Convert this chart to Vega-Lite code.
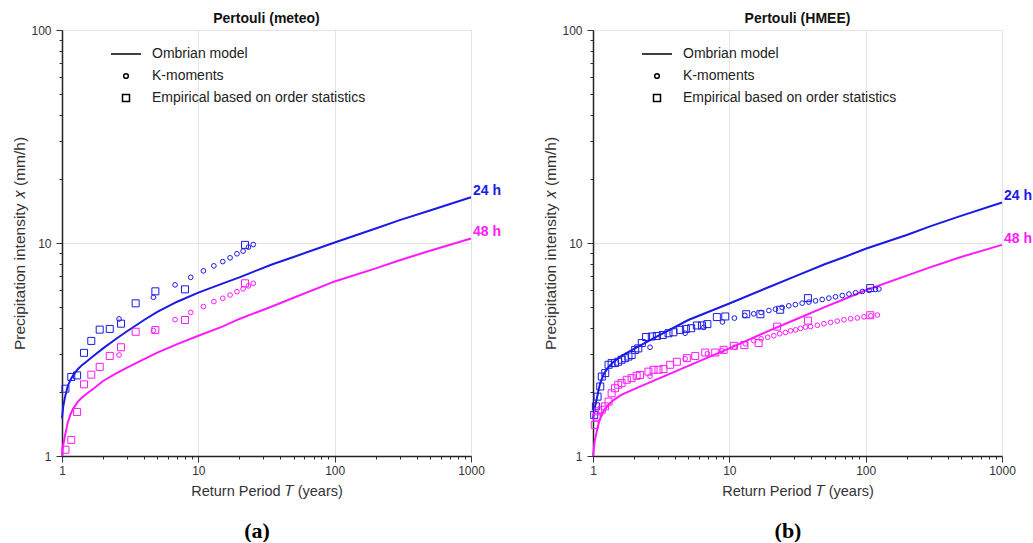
{
"$schema": "https://vega.github.io/schema/vega-lite/v6.json",
"padding": {"left": 12, "top": 12, "right": 5, "bottom": 0},
"background": "white",
"config": {
  "font": "Liberation Sans",
  "view": {"stroke": null},
  "axis": {"labelFont": "Liberation Sans", "labelFontSize": 12, "labelColor": "#333", "titleFont": "Liberation Sans", "titleFontSize": 14.5, "titleFontWeight": "normal", "titleColor": "#333", "domainColor": "#222", "domainWidth": 1.5, "tickColor": "#333", "gridColor": "#e4e4e4"},
  "axisY": {"titleFontSize": 15.5},
  "title": {"font": "Liberation Sans", "fontSize": 14, "fontWeight": "bold", "color": "#111", "offset": -2},
  "legend": {"orient": "none", "legendX": 48, "legendY": 8, "rowPadding": 8, "labelFont": "Liberation Sans", "labelFontSize": 14, "labelColor": "#222", "labelOffset": 10, "labelLimit": 500, "symbolStrokeColor": "black", "symbolFillColor": "transparent", "symbolStrokeWidth": 1.5}
},
"data": {"values": [
{"p":"a","k":"Ombrian model","d":"24 h","T":1,"x":1.5},{"p":"a","k":"Ombrian model","d":"24 h","T":1.01,"x":1.6},{"p":"a","k":"Ombrian model","d":"24 h","T":1.02,"x":1.7},{"p":"a","k":"Ombrian model","d":"24 h","T":1.05,"x":1.88},{"p":"a","k":"Ombrian model","d":"24 h","T":1.1,"x":2.12},{"p":"a","k":"Ombrian model","d":"24 h","T":1.15,"x":2.27},{"p":"a","k":"Ombrian model","d":"24 h","T":1.2,"x":2.38},{"p":"a","k":"Ombrian model","d":"24 h","T":1.3,"x":2.55},{"p":"a","k":"Ombrian model","d":"24 h","T":1.4,"x":2.67},{"p":"a","k":"Ombrian model","d":"24 h","T":1.5,"x":2.76},{"p":"a","k":"Ombrian model","d":"24 h","T":1.7,"x":2.95},{"p":"a","k":"Ombrian model","d":"24 h","T":2,"x":3.2},{"p":"a","k":"Ombrian model","d":"24 h","T":2.5,"x":3.55},{"p":"a","k":"Ombrian model","d":"24 h","T":3,"x":3.85},{"p":"a","k":"Ombrian model","d":"24 h","T":4,"x":4.35},{"p":"a","k":"Ombrian model","d":"24 h","T":5,"x":4.75},{"p":"a","k":"Ombrian model","d":"24 h","T":7,"x":5.3},{"p":"a","k":"Ombrian model","d":"24 h","T":10,"x":5.85},{"p":"a","k":"Ombrian model","d":"24 h","T":15,"x":6.45},{"p":"a","k":"Ombrian model","d":"24 h","T":20,"x":6.9},{"p":"a","k":"Ombrian model","d":"24 h","T":35,"x":7.95},{"p":"a","k":"Ombrian model","d":"24 h","T":50,"x":8.6},{"p":"a","k":"Ombrian model","d":"24 h","T":100,"x":10.05},{"p":"a","k":"Ombrian model","d":"24 h","T":200,"x":11.7},{"p":"a","k":"Ombrian model","d":"24 h","T":300,"x":12.8},{"p":"a","k":"Ombrian model","d":"24 h","T":500,"x":14.2},{"p":"a","k":"Ombrian model","d":"24 h","T":1000,"x":16.4},
{"p":"a","k":"Ombrian model","d":"48 h","T":1,"x":1.0},{"p":"a","k":"Ombrian model","d":"48 h","T":1.01,"x":1.06},{"p":"a","k":"Ombrian model","d":"48 h","T":1.02,"x":1.12},{"p":"a","k":"Ombrian model","d":"48 h","T":1.05,"x":1.24},{"p":"a","k":"Ombrian model","d":"48 h","T":1.1,"x":1.43},{"p":"a","k":"Ombrian model","d":"48 h","T":1.15,"x":1.56},{"p":"a","k":"Ombrian model","d":"48 h","T":1.2,"x":1.66},{"p":"a","k":"Ombrian model","d":"48 h","T":1.3,"x":1.79},{"p":"a","k":"Ombrian model","d":"48 h","T":1.4,"x":1.88},{"p":"a","k":"Ombrian model","d":"48 h","T":1.5,"x":1.95},{"p":"a","k":"Ombrian model","d":"48 h","T":1.7,"x":2.07},{"p":"a","k":"Ombrian model","d":"48 h","T":2,"x":2.25},{"p":"a","k":"Ombrian model","d":"48 h","T":2.5,"x":2.44},{"p":"a","k":"Ombrian model","d":"48 h","T":3,"x":2.6},{"p":"a","k":"Ombrian model","d":"48 h","T":4,"x":2.85},{"p":"a","k":"Ombrian model","d":"48 h","T":5,"x":3.06},{"p":"a","k":"Ombrian model","d":"48 h","T":7,"x":3.35},{"p":"a","k":"Ombrian model","d":"48 h","T":10,"x":3.67},{"p":"a","k":"Ombrian model","d":"48 h","T":15,"x":4.05},{"p":"a","k":"Ombrian model","d":"48 h","T":20,"x":4.4},{"p":"a","k":"Ombrian model","d":"48 h","T":35,"x":5.05},{"p":"a","k":"Ombrian model","d":"48 h","T":50,"x":5.53},{"p":"a","k":"Ombrian model","d":"48 h","T":100,"x":6.6},{"p":"a","k":"Ombrian model","d":"48 h","T":200,"x":7.6},{"p":"a","k":"Ombrian model","d":"48 h","T":300,"x":8.3},{"p":"a","k":"Ombrian model","d":"48 h","T":500,"x":9.2},{"p":"a","k":"Ombrian model","d":"48 h","T":1000,"x":10.5},
{"p":"a","k":"K-moments","d":"24 h","T":2.62,"x":4.4},{"p":"a","k":"K-moments","d":"24 h","T":4.68,"x":5.56},{"p":"a","k":"K-moments","d":"24 h","T":6.75,"x":6.36},{"p":"a","k":"K-moments","d":"24 h","T":8.79,"x":6.9},{"p":"a","k":"K-moments","d":"24 h","T":10.9,"x":7.4},{"p":"a","k":"K-moments","d":"24 h","T":13.0,"x":7.81},{"p":"a","k":"K-moments","d":"24 h","T":15.1,"x":8.18},{"p":"a","k":"K-moments","d":"24 h","T":17.1,"x":8.52},{"p":"a","k":"K-moments","d":"24 h","T":19.2,"x":8.9},{"p":"a","k":"K-moments","d":"24 h","T":21.3,"x":9.16},{"p":"a","k":"K-moments","d":"24 h","T":23.3,"x":9.56},{"p":"a","k":"K-moments","d":"24 h","T":25.3,"x":9.84},
{"p":"a","k":"K-moments","d":"48 h","T":2.62,"x":2.98},{"p":"a","k":"K-moments","d":"48 h","T":4.68,"x":3.88},{"p":"a","k":"K-moments","d":"48 h","T":6.75,"x":4.37},{"p":"a","k":"K-moments","d":"48 h","T":8.79,"x":4.72},{"p":"a","k":"K-moments","d":"48 h","T":10.9,"x":5.03},{"p":"a","k":"K-moments","d":"48 h","T":13.0,"x":5.31},{"p":"a","k":"K-moments","d":"48 h","T":15.1,"x":5.5},{"p":"a","k":"K-moments","d":"48 h","T":17.1,"x":5.7},{"p":"a","k":"K-moments","d":"48 h","T":19.2,"x":5.91},{"p":"a","k":"K-moments","d":"48 h","T":21.3,"x":6.09},{"p":"a","k":"K-moments","d":"48 h","T":23.3,"x":6.29},{"p":"a","k":"K-moments","d":"48 h","T":25.3,"x":6.47},
{"p":"a","k":"Empirical based on order statistics","d":"24 h","T":1.06,"x":2.07},{"p":"a","k":"Empirical based on order statistics","d":"24 h","T":1.17,"x":2.35},{"p":"a","k":"Empirical based on order statistics","d":"24 h","T":1.29,"x":2.39},{"p":"a","k":"Empirical based on order statistics","d":"24 h","T":1.45,"x":3.05},{"p":"a","k":"Empirical based on order statistics","d":"24 h","T":1.64,"x":3.47},{"p":"a","k":"Empirical based on order statistics","d":"24 h","T":1.89,"x":3.92},{"p":"a","k":"Empirical based on order statistics","d":"24 h","T":2.24,"x":3.95},{"p":"a","k":"Empirical based on order statistics","d":"24 h","T":2.71,"x":4.18},{"p":"a","k":"Empirical based on order statistics","d":"24 h","T":3.47,"x":5.21},{"p":"a","k":"Empirical based on order statistics","d":"24 h","T":4.84,"x":5.93},{"p":"a","k":"Empirical based on order statistics","d":"24 h","T":7.98,"x":6.06},{"p":"a","k":"Empirical based on order statistics","d":"24 h","T":22.0,"x":9.8},
{"p":"a","k":"Empirical based on order statistics","d":"48 h","T":1.06,"x":1.07},{"p":"a","k":"Empirical based on order statistics","d":"48 h","T":1.17,"x":1.19},{"p":"a","k":"Empirical based on order statistics","d":"48 h","T":1.29,"x":1.61},{"p":"a","k":"Empirical based on order statistics","d":"48 h","T":1.45,"x":2.17},{"p":"a","k":"Empirical based on order statistics","d":"48 h","T":1.64,"x":2.41},{"p":"a","k":"Empirical based on order statistics","d":"48 h","T":1.89,"x":2.62},{"p":"a","k":"Empirical based on order statistics","d":"48 h","T":2.24,"x":2.95},{"p":"a","k":"Empirical based on order statistics","d":"48 h","T":2.71,"x":3.24},{"p":"a","k":"Empirical based on order statistics","d":"48 h","T":3.47,"x":3.83},{"p":"a","k":"Empirical based on order statistics","d":"48 h","T":4.84,"x":3.9},{"p":"a","k":"Empirical based on order statistics","d":"48 h","T":7.98,"x":4.35},{"p":"a","k":"Empirical based on order statistics","d":"48 h","T":22.0,"x":6.47},
{"p":"b","k":"Ombrian model","d":"24 h","T":1,"x":1.5},{"p":"b","k":"Ombrian model","d":"24 h","T":1.03,"x":1.68},{"p":"b","k":"Ombrian model","d":"24 h","T":1.065,"x":1.85},{"p":"b","k":"Ombrian model","d":"24 h","T":1.1,"x":2.05},{"p":"b","k":"Ombrian model","d":"24 h","T":1.13,"x":2.2},{"p":"b","k":"Ombrian model","d":"24 h","T":1.2,"x":2.43},{"p":"b","k":"Ombrian model","d":"24 h","T":1.3,"x":2.62},{"p":"b","k":"Ombrian model","d":"24 h","T":1.4,"x":2.75},{"p":"b","k":"Ombrian model","d":"24 h","T":1.6,"x":2.94},{"p":"b","k":"Ombrian model","d":"24 h","T":2,"x":3.18},{"p":"b","k":"Ombrian model","d":"24 h","T":3,"x":3.66},{"p":"b","k":"Ombrian model","d":"24 h","T":5,"x":4.35},{"p":"b","k":"Ombrian model","d":"24 h","T":10,"x":5.2},{"p":"b","k":"Ombrian model","d":"24 h","T":20,"x":6.25},{"p":"b","k":"Ombrian model","d":"24 h","T":30,"x":6.95},{"p":"b","k":"Ombrian model","d":"24 h","T":50,"x":7.95},{"p":"b","k":"Ombrian model","d":"24 h","T":70,"x":8.6},{"p":"b","k":"Ombrian model","d":"24 h","T":100,"x":9.4},{"p":"b","k":"Ombrian model","d":"24 h","T":200,"x":10.9},{"p":"b","k":"Ombrian model","d":"24 h","T":300,"x":12.0},{"p":"b","k":"Ombrian model","d":"24 h","T":500,"x":13.4},{"p":"b","k":"Ombrian model","d":"24 h","T":1000,"x":15.5},
{"p":"b","k":"Ombrian model","d":"48 h","T":1,"x":1.0},{"p":"b","k":"Ombrian model","d":"48 h","T":1.03,"x":1.18},{"p":"b","k":"Ombrian model","d":"48 h","T":1.065,"x":1.3},{"p":"b","k":"Ombrian model","d":"48 h","T":1.1,"x":1.42},{"p":"b","k":"Ombrian model","d":"48 h","T":1.13,"x":1.5},{"p":"b","k":"Ombrian model","d":"48 h","T":1.2,"x":1.63},{"p":"b","k":"Ombrian model","d":"48 h","T":1.3,"x":1.74},{"p":"b","k":"Ombrian model","d":"48 h","T":1.4,"x":1.82},{"p":"b","k":"Ombrian model","d":"48 h","T":1.6,"x":1.93},{"p":"b","k":"Ombrian model","d":"48 h","T":2,"x":2.06},{"p":"b","k":"Ombrian model","d":"48 h","T":3,"x":2.3},{"p":"b","k":"Ombrian model","d":"48 h","T":5,"x":2.65},{"p":"b","k":"Ombrian model","d":"48 h","T":10,"x":3.2},{"p":"b","k":"Ombrian model","d":"48 h","T":20,"x":3.9},{"p":"b","k":"Ombrian model","d":"48 h","T":30,"x":4.35},{"p":"b","k":"Ombrian model","d":"48 h","T":50,"x":5.0},{"p":"b","k":"Ombrian model","d":"48 h","T":70,"x":5.46},{"p":"b","k":"Ombrian model","d":"48 h","T":100,"x":6.0},{"p":"b","k":"Ombrian model","d":"48 h","T":200,"x":7.03},{"p":"b","k":"Ombrian model","d":"48 h","T":300,"x":7.7},{"p":"b","k":"Ombrian model","d":"48 h","T":500,"x":8.6},{"p":"b","k":"Ombrian model","d":"48 h","T":1000,"x":9.8},
{"p":"b","k":"K-moments","d":"24 h","T":2.62,"x":3.24},{"p":"b","k":"K-moments","d":"24 h","T":4.74,"x":3.77},{"p":"b","k":"K-moments","d":"24 h","T":6.5,"x":4.02},{"p":"b","k":"K-moments","d":"24 h","T":8.9,"x":4.26},{"p":"b","k":"K-moments","d":"24 h","T":10.9,"x":4.44},{"p":"b","k":"K-moments","d":"24 h","T":13.0,"x":4.57},{"p":"b","k":"K-moments","d":"24 h","T":15.1,"x":4.65},{"p":"b","k":"K-moments","d":"24 h","T":17.1,"x":4.72},{"p":"b","k":"K-moments","d":"24 h","T":19.5,"x":4.82},{"p":"b","k":"K-moments","d":"24 h","T":21.8,"x":4.89},{"p":"b","k":"K-moments","d":"24 h","T":24.4,"x":4.98},{"p":"b","k":"K-moments","d":"24 h","T":27.3,"x":5.07},{"p":"b","k":"K-moments","d":"24 h","T":30.5,"x":5.14},{"p":"b","k":"K-moments","d":"24 h","T":34.2,"x":5.22},{"p":"b","k":"K-moments","d":"24 h","T":38.3,"x":5.28},{"p":"b","k":"K-moments","d":"24 h","T":42.9,"x":5.35},{"p":"b","k":"K-moments","d":"24 h","T":48.0,"x":5.43},{"p":"b","k":"K-moments","d":"24 h","T":53.7,"x":5.51},{"p":"b","k":"K-moments","d":"24 h","T":60.1,"x":5.59},{"p":"b","k":"K-moments","d":"24 h","T":67.4,"x":5.67},{"p":"b","k":"K-moments","d":"24 h","T":75.4,"x":5.76},{"p":"b","k":"K-moments","d":"24 h","T":84.4,"x":5.84},{"p":"b","k":"K-moments","d":"24 h","T":94.6,"x":5.92},{"p":"b","k":"K-moments","d":"24 h","T":106,"x":5.99},{"p":"b","k":"K-moments","d":"24 h","T":118,"x":6.05},{"p":"b","k":"K-moments","d":"24 h","T":125,"x":6.08},
{"p":"b","k":"K-moments","d":"48 h","T":2.62,"x":2.37},{"p":"b","k":"K-moments","d":"48 h","T":4.74,"x":2.86},{"p":"b","k":"K-moments","d":"48 h","T":6.9,"x":3.02},{"p":"b","k":"K-moments","d":"48 h","T":8.8,"x":3.12},{"p":"b","k":"K-moments","d":"48 h","T":10.9,"x":3.24},{"p":"b","k":"K-moments","d":"48 h","T":13.1,"x":3.36},{"p":"b","k":"K-moments","d":"48 h","T":15.1,"x":3.48},{"p":"b","k":"K-moments","d":"48 h","T":17.1,"x":3.55},{"p":"b","k":"K-moments","d":"48 h","T":19.1,"x":3.61},{"p":"b","k":"K-moments","d":"48 h","T":21.2,"x":3.67},{"p":"b","k":"K-moments","d":"48 h","T":23.4,"x":3.75},{"p":"b","k":"K-moments","d":"48 h","T":25.8,"x":3.8},{"p":"b","k":"K-moments","d":"48 h","T":28.1,"x":3.87},{"p":"b","k":"K-moments","d":"48 h","T":30.6,"x":3.91},{"p":"b","k":"K-moments","d":"48 h","T":33.3,"x":3.97},{"p":"b","k":"K-moments","d":"48 h","T":36.2,"x":4.03},{"p":"b","k":"K-moments","d":"48 h","T":39.4,"x":4.05},{"p":"b","k":"K-moments","d":"48 h","T":44.2,"x":4.11},{"p":"b","k":"K-moments","d":"48 h","T":49.4,"x":4.18},{"p":"b","k":"K-moments","d":"48 h","T":55.3,"x":4.24},{"p":"b","k":"K-moments","d":"48 h","T":61.9,"x":4.3},{"p":"b","k":"K-moments","d":"48 h","T":69.2,"x":4.36},{"p":"b","k":"K-moments","d":"48 h","T":77.6,"x":4.41},{"p":"b","k":"K-moments","d":"48 h","T":86.9,"x":4.45},{"p":"b","k":"K-moments","d":"48 h","T":97.2,"x":4.5},{"p":"b","k":"K-moments","d":"48 h","T":109,"x":4.55},{"p":"b","k":"K-moments","d":"48 h","T":122,"x":4.59},
{"p":"b","k":"Empirical based on order statistics","d":"24 h","T":1.02,"x":1.56},{"p":"b","k":"Empirical based on order statistics","d":"24 h","T":1.05,"x":1.71},{"p":"b","k":"Empirical based on order statistics","d":"24 h","T":1.08,"x":1.9},{"p":"b","k":"Empirical based on order statistics","d":"24 h","T":1.13,"x":2.12},{"p":"b","k":"Empirical based on order statistics","d":"24 h","T":1.16,"x":2.36},{"p":"b","k":"Empirical based on order statistics","d":"24 h","T":1.23,"x":2.45},{"p":"b","k":"Empirical based on order statistics","d":"24 h","T":1.3,"x":2.68},{"p":"b","k":"Empirical based on order statistics","d":"24 h","T":1.37,"x":2.73},{"p":"b","k":"Empirical based on order statistics","d":"24 h","T":1.45,"x":2.73},{"p":"b","k":"Empirical based on order statistics","d":"24 h","T":1.53,"x":2.77},{"p":"b","k":"Empirical based on order statistics","d":"24 h","T":1.62,"x":2.83},{"p":"b","k":"Empirical based on order statistics","d":"24 h","T":1.72,"x":2.88},{"p":"b","k":"Empirical based on order statistics","d":"24 h","T":1.82,"x":2.93},{"p":"b","k":"Empirical based on order statistics","d":"24 h","T":1.92,"x":2.98},{"p":"b","k":"Empirical based on order statistics","d":"24 h","T":2.04,"x":3.15},{"p":"b","k":"Empirical based on order statistics","d":"24 h","T":2.15,"x":3.2},{"p":"b","k":"Empirical based on order statistics","d":"24 h","T":2.28,"x":3.39},{"p":"b","k":"Empirical based on order statistics","d":"24 h","T":2.45,"x":3.62},{"p":"b","k":"Empirical based on order statistics","d":"24 h","T":2.7,"x":3.64},{"p":"b","k":"Empirical based on order statistics","d":"24 h","T":2.94,"x":3.66},{"p":"b","k":"Empirical based on order statistics","d":"24 h","T":3.25,"x":3.7},{"p":"b","k":"Empirical based on order statistics","d":"24 h","T":3.58,"x":3.77},{"p":"b","k":"Empirical based on order statistics","d":"24 h","T":3.89,"x":3.81},{"p":"b","k":"Empirical based on order statistics","d":"24 h","T":4.36,"x":3.91},{"p":"b","k":"Empirical based on order statistics","d":"24 h","T":4.8,"x":3.95},{"p":"b","k":"Empirical based on order statistics","d":"24 h","T":5.25,"x":3.98},{"p":"b","k":"Empirical based on order statistics","d":"24 h","T":5.78,"x":4.1},{"p":"b","k":"Empirical based on order statistics","d":"24 h","T":6.3,"x":4.1},{"p":"b","k":"Empirical based on order statistics","d":"24 h","T":6.9,"x":4.16},{"p":"b","k":"Empirical based on order statistics","d":"24 h","T":8.1,"x":4.49},{"p":"b","k":"Empirical based on order statistics","d":"24 h","T":9.34,"x":4.52},{"p":"b","k":"Empirical based on order statistics","d":"24 h","T":13.3,"x":4.63},{"p":"b","k":"Empirical based on order statistics","d":"24 h","T":16.9,"x":4.63},{"p":"b","k":"Empirical based on order statistics","d":"24 h","T":23.6,"x":4.86},{"p":"b","k":"Empirical based on order statistics","d":"24 h","T":37.7,"x":5.51},{"p":"b","k":"Empirical based on order statistics","d":"24 h","T":108,"x":6.14},
{"p":"b","k":"Empirical based on order statistics","d":"48 h","T":1.03,"x":1.4},{"p":"b","k":"Empirical based on order statistics","d":"48 h","T":1.065,"x":1.53},{"p":"b","k":"Empirical based on order statistics","d":"48 h","T":1.09,"x":1.62},{"p":"b","k":"Empirical based on order statistics","d":"48 h","T":1.16,"x":1.65},{"p":"b","k":"Empirical based on order statistics","d":"48 h","T":1.225,"x":1.71},{"p":"b","k":"Empirical based on order statistics","d":"48 h","T":1.3,"x":1.8},{"p":"b","k":"Empirical based on order statistics","d":"48 h","T":1.37,"x":1.97},{"p":"b","k":"Empirical based on order statistics","d":"48 h","T":1.45,"x":2.08},{"p":"b","k":"Empirical based on order statistics","d":"48 h","T":1.53,"x":2.16},{"p":"b","k":"Empirical based on order statistics","d":"48 h","T":1.62,"x":2.2},{"p":"b","k":"Empirical based on order statistics","d":"48 h","T":1.77,"x":2.28},{"p":"b","k":"Empirical based on order statistics","d":"48 h","T":1.92,"x":2.32},{"p":"b","k":"Empirical based on order statistics","d":"48 h","T":2.09,"x":2.38},{"p":"b","k":"Empirical based on order statistics","d":"48 h","T":2.21,"x":2.4},{"p":"b","k":"Empirical based on order statistics","d":"48 h","T":2.55,"x":2.49},{"p":"b","k":"Empirical based on order statistics","d":"48 h","T":2.78,"x":2.54},{"p":"b","k":"Empirical based on order statistics","d":"48 h","T":3.02,"x":2.54},{"p":"b","k":"Empirical based on order statistics","d":"48 h","T":3.29,"x":2.56},{"p":"b","k":"Empirical based on order statistics","d":"48 h","T":3.68,"x":2.68},{"p":"b","k":"Empirical based on order statistics","d":"48 h","T":4.12,"x":2.77},{"p":"b","k":"Empirical based on order statistics","d":"48 h","T":4.88,"x":2.88},{"p":"b","k":"Empirical based on order statistics","d":"48 h","T":5.62,"x":2.95},{"p":"b","k":"Empirical based on order statistics","d":"48 h","T":6.66,"x":3.06},{"p":"b","k":"Empirical based on order statistics","d":"48 h","T":7.88,"x":3.06},{"p":"b","k":"Empirical based on order statistics","d":"48 h","T":9.08,"x":3.15},{"p":"b","k":"Empirical based on order statistics","d":"48 h","T":10.8,"x":3.29},{"p":"b","k":"Empirical based on order statistics","d":"48 h","T":12.9,"x":3.32},{"p":"b","k":"Empirical based on order statistics","d":"48 h","T":16.4,"x":3.39},{"p":"b","k":"Empirical based on order statistics","d":"48 h","T":22.4,"x":4.05},{"p":"b","k":"Empirical based on order statistics","d":"48 h","T":37.7,"x":4.32},{"p":"b","k":"Empirical based on order statistics","d":"48 h","T":108,"x":4.58}
]},
"spacing": 41,
"resolve": {"scale": {"color": "independent", "shape": "independent", "size": "independent"}, "legend": {"shape": "independent", "size": "independent"}},
"hconcat": [
 {"title": {"text": "(a)", "orient": "bottom", "anchor": "middle", "font": "Liberation Serif", "fontSize": 22, "fontWeight": "bold", "color": "#000", "offset": 23},
  "resolve": {"scale": {"color": "independent", "shape": "independent", "size": "independent"}, "legend": {"shape": "independent", "size": "independent"}},
  "vconcat": [
  {"title": {"text": "Pertouli (meteo)"},
   "width": 409, "height": 426,
   "transform": [{"filter": "datum.p == 'a'"}],
   "encoding": {
     "x": {"field": "T", "type": "quantitative", "scale": {"type": "log", "domain": [1, 1000]},
       "axis": {"title": "Return Period 𝑇 (years)", "values": [1,2,3,4,5,6,7,8,9,10,20,30,40,50,60,70,80,90,100,200,300,400,500,600,700,800,900,1000], "format": "d", "labelOverlap": false, "labelFlush": false,
         "labelExpr": "(datum.value == 1 || datum.value == 10 || datum.value == 100 || datum.value == 1000) ? datum.label : ''",
         "grid": true, "gridOpacity": {"condition": {"test": "datum.value == 1 || datum.value == 10 || datum.value == 100 || datum.value == 1000", "value": 1}, "value": 0},
         "tickSize": {"condition": {"test": "datum.value == 1 || datum.value == 10 || datum.value == 100 || datum.value == 1000", "value": 6}, "value": 3},
         "labelPadding": 3, "titlePadding": 8}},
     "y": {"field": "x", "type": "quantitative", "scale": {"type": "log", "domain": [1, 100]},
       "axis": {"title": "Precipitation intensity 𝑥 (mm/h)", "values": [1,2,3,4,5,6,7,8,9,10,20,30,40,50,60,70,80,90,100], "format": "d", "labelOverlap": false, "labelFlush": false,
         "labelExpr": "(datum.value == 1 || datum.value == 10 || datum.value == 100) ? datum.label : ''",
         "grid": true, "gridOpacity": {"condition": {"test": "datum.value == 1 || datum.value == 10 || datum.value == 100", "value": 1}, "value": 0},
         "tickSize": {"condition": {"test": "datum.value == 1 || datum.value == 10 || datum.value == 100", "value": 6}, "value": 3},
         "labelPadding": 5, "titlePadding": 3}},
     "color": {"field": "d", "type": "nominal", "scale": {"domain": ["24 h", "48 h"], "range": ["#1a1ae6", "#ff1aff"]}, "legend": null}
   },
   "layer": [
     {"transform": [{"filter": "datum.k == 'Ombrian model'"}], "mark": {"type": "line", "strokeWidth": 2}},
     {"transform": [{"filter": "datum.k != 'Ombrian model'"}], "mark": {"type": "point", "filled": false, "strokeWidth": 1, "opacity": 1},
      "encoding": {
        "shape": {"field": "k", "type": "nominal", "scale": {"domain": ["Ombrian model", "K-moments", "Empirical based on order statistics"], "range": ["stroke", "circle", "square"]}, "legend": {"title": null}},
        "size": {"field": "k", "type": "nominal", "scale": {"type": "ordinal", "domain": ["Ombrian model", "K-moments", "Empirical based on order statistics"], "range": [900, 22, 49]}, "legend": {"title": null}}
      }},
     {"transform": [{"filter": "datum.k == 'Ombrian model' && datum.T == 1000"}], "mark": {"type": "text", "align": "left", "dx": 2, "dy": -6, "fontWeight": "bold", "fontSize": 14},
      "encoding": {"text": {"field": "d"}}}
   ]}
 ]},
 {"title": {"text": "(b)", "orient": "bottom", "anchor": "middle", "font": "Liberation Serif", "fontSize": 22, "fontWeight": "bold", "color": "#000", "offset": 23},
  "resolve": {"scale": {"color": "independent", "shape": "independent", "size": "independent"}, "legend": {"shape": "independent", "size": "independent"}},
  "vconcat": [
  {"title": {"text": "Pertouli (HMEE)"},
   "width": 409, "height": 426,
   "transform": [{"filter": "datum.p == 'b'"}],
   "encoding": {
     "x": {"field": "T", "type": "quantitative", "scale": {"type": "log", "domain": [1, 1000]},
       "axis": {"title": "Return Period 𝑇 (years)", "values": [1,2,3,4,5,6,7,8,9,10,20,30,40,50,60,70,80,90,100,200,300,400,500,600,700,800,900,1000], "format": "d", "labelOverlap": false, "labelFlush": false,
         "labelExpr": "(datum.value == 1 || datum.value == 10 || datum.value == 100 || datum.value == 1000) ? datum.label : ''",
         "grid": true, "gridOpacity": {"condition": {"test": "datum.value == 1 || datum.value == 10 || datum.value == 100 || datum.value == 1000", "value": 1}, "value": 0},
         "tickSize": {"condition": {"test": "datum.value == 1 || datum.value == 10 || datum.value == 100 || datum.value == 1000", "value": 6}, "value": 3},
         "labelPadding": 3, "titlePadding": 8}},
     "y": {"field": "x", "type": "quantitative", "scale": {"type": "log", "domain": [1, 100]},
       "axis": {"title": "Precipitation intensity 𝑥 (mm/h)", "values": [1,2,3,4,5,6,7,8,9,10,20,30,40,50,60,70,80,90,100], "format": "d", "labelOverlap": false, "labelFlush": false,
         "labelExpr": "(datum.value == 1 || datum.value == 10 || datum.value == 100) ? datum.label : ''",
         "grid": true, "gridOpacity": {"condition": {"test": "datum.value == 1 || datum.value == 10 || datum.value == 100", "value": 1}, "value": 0},
         "tickSize": {"condition": {"test": "datum.value == 1 || datum.value == 10 || datum.value == 100", "value": 6}, "value": 3},
         "labelPadding": 5, "titlePadding": 3}},
     "color": {"field": "d", "type": "nominal", "scale": {"domain": ["24 h", "48 h"], "range": ["#1a1ae6", "#ff1aff"]}, "legend": null}
   },
   "layer": [
     {"transform": [{"filter": "datum.k == 'Ombrian model'"}], "mark": {"type": "line", "strokeWidth": 2}},
     {"transform": [{"filter": "datum.k != 'Ombrian model'"}], "mark": {"type": "point", "filled": false, "strokeWidth": 1, "opacity": 1},
      "encoding": {
        "shape": {"field": "k", "type": "nominal", "scale": {"domain": ["Ombrian model", "K-moments", "Empirical based on order statistics"], "range": ["stroke", "circle", "square"]}, "legend": {"title": null}},
        "size": {"field": "k", "type": "nominal", "scale": {"type": "ordinal", "domain": ["Ombrian model", "K-moments", "Empirical based on order statistics"], "range": [900, 22, 49]}, "legend": {"title": null}}
      }},
     {"transform": [{"filter": "datum.k == 'Ombrian model' && datum.T == 1000"}], "mark": {"type": "text", "align": "left", "dx": 2, "dy": -6, "fontWeight": "bold", "fontSize": 14},
      "encoding": {"text": {"field": "d"}}}
   ]}
 ]}
]
}
